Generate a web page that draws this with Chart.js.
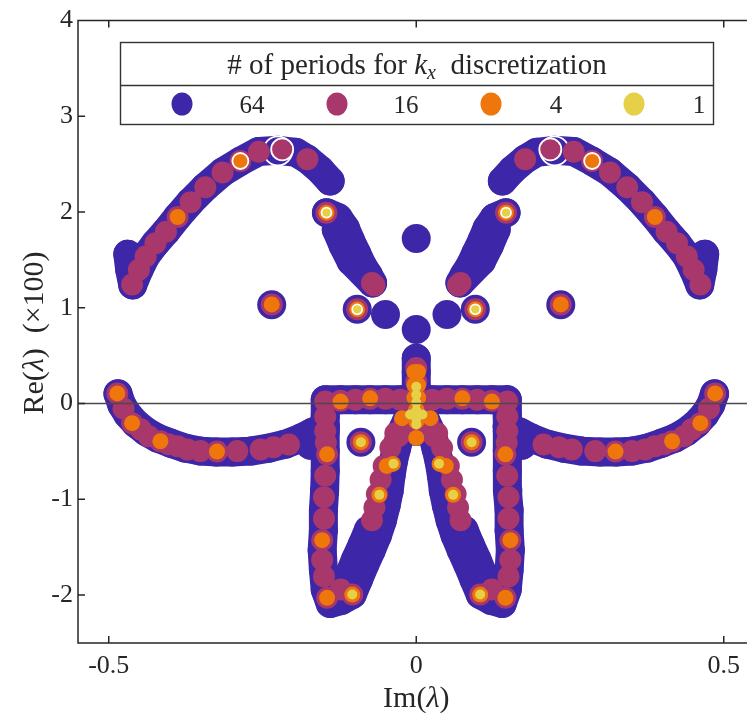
<!DOCTYPE html>
<html>
<head>
<meta charset="utf-8">
<script src="https://cdn.jsdelivr.net/npm/chart.js@4.4.1/dist/chart.umd.min.js"></script>
<style>
  html, body { margin: 0; padding: 0; background: #fff; }
  canvas { display: block; }
</style>
</head>
<body>
<canvas id="eig_chart" width="748" height="719"></canvas>
<script>
    // eigenvalues (x: Im, y: Re x100), one group per k_x discretization
    // 64 periods: dense branches, each drawn as a thick connected band
    const b64ArcL = [[-0.469,1.560],[-0.466,1.400],[-0.461,1.240],[-0.451,1.395],[-0.440,1.539],[-0.424,1.674],[-0.407,1.798],[-0.388,1.952],[-0.367,2.107],[-0.343,2.262],[-0.315,2.417],[-0.286,2.531],[-0.256,2.634],[-0.224,2.645],[-0.196,2.624],[-0.177,2.552],[-0.156,2.438],[-0.140,2.324]];
    const b64ArcR = [[0.469,1.560],[0.466,1.400],[0.461,1.240],[0.451,1.395],[0.440,1.539],[0.424,1.674],[0.407,1.798],[0.388,1.952],[0.367,2.107],[0.343,2.262],[0.315,2.417],[0.286,2.531],[0.256,2.634],[0.224,2.645],[0.196,2.624],[0.177,2.552],[0.156,2.438],[0.140,2.324]];
    const b64ArmL = [[-0.146,1.994],[-0.127,1.942],[-0.115,1.829],[-0.107,1.705],[-0.097,1.570],[-0.088,1.446],[-0.078,1.343],[-0.071,1.260],[-0.106,1.488],[-0.119,1.653],[-0.130,1.818]];
    const b64ArmR = [[0.146,1.994],[0.127,1.942],[0.115,1.829],[0.107,1.705],[0.097,1.570],[0.088,1.446],[0.078,1.343],[0.071,1.260],[0.106,1.488],[0.119,1.653],[0.130,1.818]];
    const b64Spine = [[0,0.475],[0,0.331],[0,0.176],[0,0.041]];
    const b64LoopL = [[0,0.041],[-0.026,0.041],[-0.050,0.041],[-0.075,0.041],[-0.099,0.041],[-0.123,0.041],[-0.148,0.041],[-0.148,-0.134],[-0.148,-0.289],[-0.148,-0.496],[-0.148,-0.702],[-0.149,-0.909],[-0.151,-1.116],[-0.151,-1.322],[-0.153,-1.529],[-0.151,-1.736],[-0.148,-1.942],[-0.140,-2.087],[-0.122,-2.056],[-0.104,-1.994],[-0.094,-1.839],[-0.084,-1.684],[-0.073,-1.529],[-0.063,-1.374],[-0.055,-1.219],[-0.049,-1.064],[-0.044,-0.909],[-0.041,-0.754],[-0.037,-0.599],[-0.032,-0.465],[-0.026,-0.320],[-0.016,-0.186],[0,-0.031],[0,-0.289]];
    const b64LoopR = [[0,0.041],[0.026,0.041],[0.050,0.041],[0.075,0.041],[0.099,0.041],[0.123,0.041],[0.148,0.041],[0.148,-0.134],[0.148,-0.289],[0.148,-0.496],[0.148,-0.702],[0.149,-0.909],[0.151,-1.116],[0.151,-1.322],[0.153,-1.529],[0.151,-1.736],[0.148,-1.942],[0.140,-2.087],[0.122,-2.056],[0.104,-1.994],[0.094,-1.839],[0.084,-1.684],[0.073,-1.529],[0.063,-1.374],[0.055,-1.219],[0.049,-1.064],[0.044,-0.909],[0.041,-0.754],[0.037,-0.599],[0.032,-0.465],[0.026,-0.320],[0.016,-0.186],[0,-0.031]];
    const b64FatL = [[-0.119,-1.942],[-0.109,-1.787],[-0.099,-1.632],[-0.088,-1.477],[-0.078,-1.322]];
    const b64FatR = [[0.119,-1.942],[0.109,-1.787],[0.099,-1.632],[0.088,-1.477],[0.078,-1.322]];
    const b64LowL = [[-0.485,0.103],[-0.479,-0.010],[-0.469,-0.114],[-0.456,-0.207],[-0.440,-0.289],[-0.420,-0.362],[-0.399,-0.413],[-0.375,-0.465],[-0.351,-0.496],[-0.325,-0.506],[-0.299,-0.506],[-0.269,-0.496],[-0.240,-0.465],[-0.213,-0.424],[-0.188,-0.362],[-0.169,-0.300],[-0.148,-0.238],[-0.172,-0.434]];
    const b64LowR = [[0.485,0.103],[0.479,-0.010],[0.469,-0.114],[0.456,-0.207],[0.440,-0.289],[0.420,-0.362],[0.399,-0.413],[0.375,-0.465],[0.351,-0.496],[0.325,-0.506],[0.299,-0.506],[0.269,-0.496],[0.240,-0.465],[0.213,-0.424],[0.188,-0.362],[0.169,-0.300],[0.148,-0.238],[0.172,-0.434]];
    const b64Dots = [[-0.235,1.033],[0.235,1.033],[-0.096,0.985],[0.096,0.985],[-0.050,0.930],[0.050,0.930],[-0.090,-0.403],[0.090,-0.403],[0,1.725],[0,0.775]];
    const b64Ringed = [[-0.225,2.640],[0.225,2.640]];

    // 16 periods
    const m16ArcL = [[-0.462,1.243],[-0.451,1.398],[-0.440,1.536],[-0.424,1.674],[-0.407,1.794],[-0.388,1.949],[-0.367,2.104],[-0.343,2.259],[-0.315,2.414],[-0.286,2.534],[-0.256,2.631],[-0.177,2.552]];
    const m16ArcR = [[0.462,1.243],[0.451,1.398],[0.440,1.536],[0.424,1.674],[0.407,1.794],[0.388,1.949],[0.367,2.104],[0.343,2.259],[0.315,2.414],[0.286,2.534],[0.256,2.631],[0.177,2.552]];
    const m16Dots = [[-0.235,1.036],[0.235,1.036],[-0.146,1.994],[0.146,1.994],[-0.096,0.985],[0.096,0.985],[-0.072,1.260],[0.072,1.260],[-0.068,1.235],[0.068,1.235],[-0.090,-0.403],[0.090,-0.403]];
    const m16LowL = [[-0.486,0.106],[-0.476,-0.052],[-0.462,-0.204],[-0.448,-0.269],[-0.435,-0.341],[-0.416,-0.393],[-0.403,-0.424],[-0.388,-0.444],[-0.372,-0.478],[-0.351,-0.496],[-0.324,-0.501],[-0.291,-0.496],[-0.253,-0.478],[-0.232,-0.455],[-0.207,-0.427]];
    const m16LowR = [[0.486,0.106],[0.476,-0.052],[0.462,-0.204],[0.448,-0.269],[0.435,-0.341],[0.416,-0.393],[0.403,-0.424],[0.388,-0.444],[0.372,-0.478],[0.351,-0.496],[0.324,-0.501],[0.291,-0.496],[0.253,-0.478],[0.232,-0.455],[0.207,-0.427]];
    const m16LegL = [[-0.148,0.021],[-0.148,-0.134],[-0.148,-0.289],[-0.147,-0.410],[-0.145,-0.530],[-0.148,-0.754],[-0.150,-0.978],[-0.150,-1.201],[-0.153,-1.426],[-0.153,-1.632],[-0.150,-1.805],[-0.145,-2.028],[-0.123,-1.942],[-0.104,-1.994]];
    const m16LegR = [[0.148,0.021],[0.148,-0.134],[0.148,-0.289],[0.147,-0.410],[0.145,-0.530],[0.148,-0.754],[0.150,-0.978],[0.150,-1.201],[0.153,-1.426],[0.153,-1.632],[0.150,-1.805],[0.145,-2.028],[0.123,-1.942],[0.104,-1.994]];
    const m16Bar = [[-0.123,0.031],[-0.099,0.041],[-0.075,0.052],[-0.050,0.052],[-0.026,0.041],[0.026,0.041],[0.050,0.052],[0.075,0.052],[0.099,0.041],[0.123,0.031]];
    const m16InL = [[-0.072,-1.219],[-0.068,-1.085],[-0.064,-0.943],[-0.058,-0.795],[-0.053,-0.651],[-0.042,-0.462],[-0.034,-0.310]];
    const m16InR = [[0.072,-1.219],[0.068,-1.085],[0.064,-0.943],[0.058,-0.795],[0.053,-0.651],[0.042,-0.462],[0.034,-0.310]];
    const m16Spine = [[0,0.372],[0,0.227],[0,0.083],[0,-0.062],[0,-0.186],[0,-0.320],[-0.019,-0.186],[0.019,-0.186],[-0.029,-0.341],[0.029,-0.341]];
    const m16Ringed = [[-0.218,2.655],[0.218,2.655]];

    // 4 periods
    const o4L = [[-0.388,1.949],[-0.235,1.036],[-0.146,1.994],[-0.096,0.985],[-0.090,-0.403],[-0.486,0.106],[-0.462,-0.204],[-0.416,-0.393],[-0.324,-0.501],[-0.145,-0.530],[-0.153,-1.426],[-0.145,-2.028],[-0.104,-1.994],[-0.123,0.021],[-0.075,0.055],[-0.048,-0.651],[-0.038,-0.630],[-0.060,-0.953],[-0.023,-0.152]];
    const o4R = [[0.388,1.949],[0.235,1.036],[0.146,1.994],[0.096,0.985],[0.090,-0.403],[0.486,0.106],[0.462,-0.204],[0.416,-0.393],[0.324,-0.501],[0.145,-0.530],[0.153,-1.426],[0.145,-2.028],[0.104,-1.994],[0.123,0.021],[0.075,0.055],[0.048,-0.651],[0.038,-0.630],[0.060,-0.953],[0.023,-0.152]];
    const o4Spine = [[-0.003,0.331],[0.003,0.331],[-0.003,0.196],[0.003,0.196],[-0.003,0.062],[0.003,0.062],[0,-0.062],[0,-0.186],[0,-0.358]];
    const o4Ringed = [[-0.286,2.534],[0.286,2.534]];

    // 1 period
    const y1Pts = [[-0.090,-0.403],[0.090,-0.403],[-0.104,-1.994],[0.104,-1.994],[-0.037,-0.627],[0.037,-0.627],[-0.060,-0.953],[0.060,-0.953]];
    const y1Spine = [[0,0.176],[0,0.093],[0,0.010],[0,-0.072],[0,-0.155],[0,-0.217],[-0.010,-0.114],[0.010,-0.114]];
    const y1Ringed = [[-0.146,1.994],[0.146,1.994],[-0.096,0.985],[0.096,0.985]];

    const xTicks = [-0.5, 0, 0.5];
    const yTicks = [-2, -1, 0, 1, 2, 3, 4];
    const legendLabels = ['64', '16', '4', '1'];

    const c64 = '#3e26a8';
    const c16 = '#a8376c';
    const c4 = '#ee760a';
    const c1 = '#e6d048';
    const serif = '"Liberation Serif", "Times New Roman", serif';
    const ink = '#262626';

    const toXY = arr => arr.map(p => ({x: p[0], y: p[1]}));

    // plain points first, white-rimmed ones after them so they sit on top
    function series(groups, ringed) {
        const data = [];
        const ring = [];
        groups.forEach(g => g.forEach(p => { data.push({x: p[0], y: p[1]}); ring.push(false); }));
        ringed.forEach(p => { data.push({x: p[0], y: p[1]}); ring.push(true); });
        return {data, ring};
    }

    function pointSet(label, s, color, radius, order) {
        return {
            label: label,
            data: s.data,
            showLine: false,
            backgroundColor: color,
            pointRadius: radius,
            pointBackgroundColor: color,
            pointBorderColor: ctx => s.ring[ctx.dataIndex] ? '#ffffff' : color,
            pointBorderWidth: ctx => s.ring[ctx.dataIndex] ? 1.8 : 0,
            order: order,
        };
    }

    function bandSet(branch) {
        return {
            label: '64',
            data: toXY(branch),
            showLine: true,
            borderColor: c64,
            borderWidth: 29,
            borderCapStyle: 'round',
            borderJoinStyle: 'round',
            backgroundColor: c64,
            pointRadius: 14.5,
            pointBackgroundColor: c64,
            pointBorderWidth: 0,
            order: 4,
        };
    }

    const s64 = series([b64Dots], b64Ringed);
    const s16 = series([m16ArcL, m16ArcR, m16Dots, m16LowL, m16LowR, m16LegL, m16LegR, m16Bar, m16InL, m16InR, m16Spine], m16Ringed);
    const s4 = series([o4L, o4R, o4Spine], o4Ringed);
    const s1 = series([y1Pts, y1Spine], y1Ringed);

    const bands = [b64ArcL, b64ArcR, b64ArmL, b64ArmR, b64Spine, b64LoopL, b64LoopR,
                   b64FatL, b64FatR, b64LowL, b64LowR].map(bandSet);

    function drawRuns(ctx, runs, cx, baseline) {
        let total = 0;
        runs.forEach(r => { ctx.font = r.font; r.w = ctx.measureText(r.t).width; total += r.w; });
        let x = cx - total / 2;
        ctx.textAlign = 'left';
        ctx.textBaseline = 'alphabetic';
        runs.forEach(r => { ctx.font = r.font; ctx.fillText(r.t, x, baseline + (r.dy || 0)); x += r.w; });
    }

    const framePlugin = {
        id: 'frame',
        afterDatasetsDraw(chart) {
            const {ctx, chartArea: a, scales: {x, y}} = chart;
            ctx.save();

            // Re = 0 reference line
            const y0 = y.getPixelForValue(0);
            ctx.strokeStyle = '#4a4a4a';
            ctx.lineWidth = 1.5;
            ctx.beginPath();
            ctx.moveTo(a.left, y0);
            ctx.lineTo(a.right, y0);
            ctx.stroke();

            // box (left, top, bottom) with inward ticks
            ctx.strokeStyle = ink;
            ctx.lineWidth = 1.5;
            ctx.beginPath();
            ctx.moveTo(a.right, a.top);
            ctx.lineTo(a.left, a.top);
            ctx.lineTo(a.left, a.bottom);
            ctx.lineTo(a.right, a.bottom);
            xTicks.forEach(v => {
                const px = x.getPixelForValue(v);
                ctx.moveTo(px, a.bottom); ctx.lineTo(px, a.bottom - 7);
                ctx.moveTo(px, a.top); ctx.lineTo(px, a.top + 7);
            });
            yTicks.forEach(v => {
                const py = y.getPixelForValue(v);
                ctx.moveTo(a.left, py); ctx.lineTo(a.left + 7, py);
            });
            ctx.stroke();

            // legend box
            const lx0 = 120.5, lx1 = 713.5, ly0 = 42.5, ly1 = 124.5, lmid = 85.5;
            ctx.fillStyle = '#ffffff';
            ctx.fillRect(lx0, ly0, lx1 - lx0, ly1 - ly0);
            ctx.strokeStyle = '#333333';
            ctx.lineWidth = 1.4;
            ctx.strokeRect(lx0, ly0, lx1 - lx0, ly1 - ly0);
            ctx.beginPath();
            ctx.moveTo(lx0, lmid);
            ctx.lineTo(lx1, lmid);
            ctx.stroke();

            ctx.fillStyle = ink;
            drawRuns(ctx, [
                {t: '# of periods for ', font: `29px ${serif}`},
                {t: 'k', font: `italic 29px ${serif}`},
                {t: 'x', font: `italic 20px ${serif}`, dy: 5},
                {t: '  discretization', font: `29px ${serif}`},
            ], (lx0 + lx1) / 2, 74);

            const markerX = [182, 337, 491, 634];
            const labelX = [252, 406, 556, 699];
            const markerColors = [c64, c16, c4, c1];
            legendLabels.forEach((lab, i) => {
                ctx.fillStyle = markerColors[i];
                ctx.beginPath();
                ctx.ellipse(markerX[i], 104, 10.5, 11.5, 0, 0, Math.PI * 2);
                ctx.fill();
                ctx.fillStyle = ink;
                ctx.font = `25px ${serif}`;
                ctx.textAlign = 'center';
                ctx.textBaseline = 'alphabetic';
                ctx.fillText(lab, labelX[i], 113);
            });

            // axis titles
            const axisMid = x.getPixelForValue(0);
            drawRuns(ctx, [
                {t: 'Im(', font: `30px ${serif}`},
                {t: '\u03bb', font: `italic 30px ${serif}`},
                {t: ')', font: `30px ${serif}`},
            ], axisMid, 707);

            ctx.translate(43, 333);
            ctx.rotate(-Math.PI / 2);
            drawRuns(ctx, [
                {t: 'Re(', font: `30px ${serif}`},
                {t: '\u03bb', font: `italic 30px ${serif}`},
                {t: ')  (\u00d7100)', font: `30px ${serif}`},
            ], 0, 0);

            ctx.restore();
        }
    };

    const chartCanvas = document.getElementById('eig_chart').getContext('2d');
    const chartObject = new Chart(chartCanvas, {
        type: 'scatter',
        data: {
            datasets: [
                pointSet('64', s64, c64, 14.5, 4),
                ...bands,
                pointSet('16', s16, c16, 11, 3),
                pointSet('4', s4, c4, 8, 2),
                pointSet('1', s1, c1, 5, 1),
            ],
        },
        options: {
            responsive: false,
            devicePixelRatio: 1,
            animation: false,
            events: [],
            layout: {
                autoPadding: false,
                padding: {top: 14, left: 0, right: 0, bottom: 0},
            },
            plugins: {
                legend: {display: false},
                tooltip: {enabled: false},
            },
            scales: {
                x: {
                    type: 'linear',
                    min: -0.55,
                    max: 0.5377,
                    grid: {display: false, drawTicks: false},
                    border: {display: false},
                    afterBuildTicks: scale => { scale.ticks = xTicks.map(v => ({value: v})); },
                    afterFit: scale => { scale.height = 76; },
                    ticks: {
                        autoSkip: false,
                        maxRotation: 0,
                        minRotation: 0,
                        padding: 8,
                        color: ink,
                        font: {family: serif, size: 26},
                        callback: v => String(v),
                    },
                },
                y: {
                    type: 'linear',
                    min: -2.5,
                    max: 4,
                    grid: {display: false, drawTicks: false},
                    border: {display: false},
                    afterBuildTicks: scale => { scale.ticks = yTicks.map(v => ({value: v})); },
                    afterFit: scale => { scale.width = 78; },
                    ticks: {
                        autoSkip: false,
                        padding: 5,
                        color: ink,
                        font: {family: serif, size: 26},
                        callback: v => String(v),
                    },
                },
            },
        },
        plugins: [framePlugin],
    });
</script>
</body>
</html>
